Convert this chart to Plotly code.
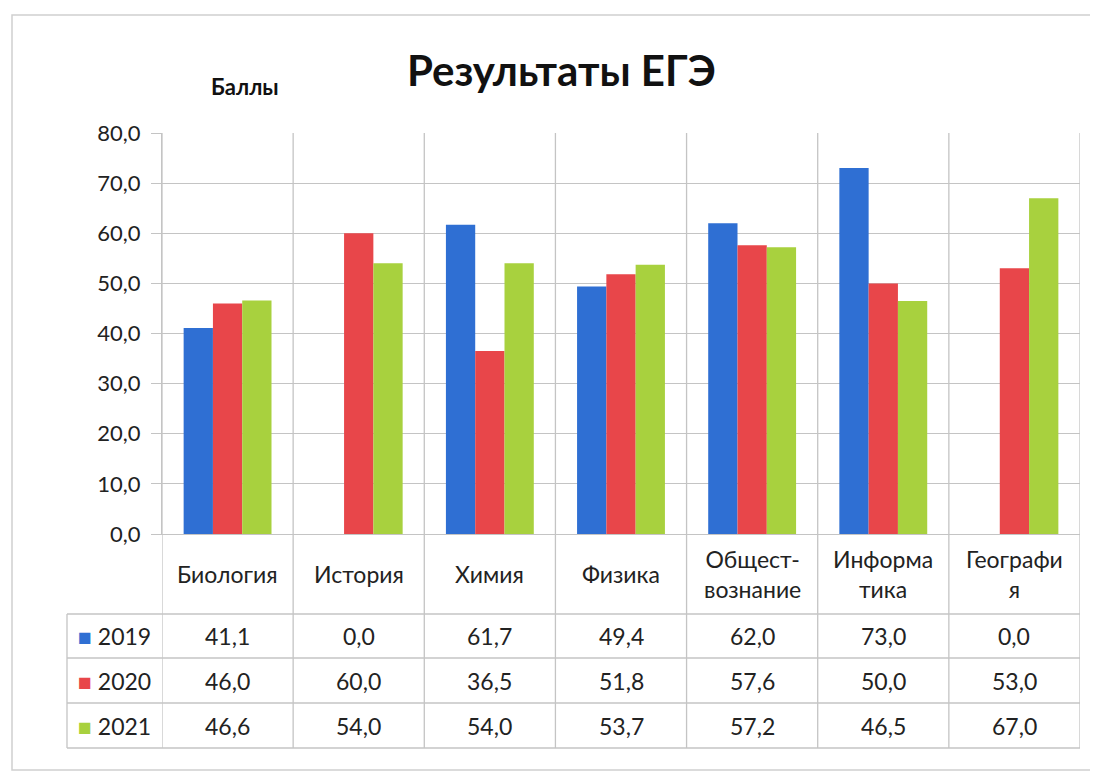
import plotly.graph_objects as go

categories = ["Биология", "История", "Химия", "Физика", "Общест-<br>вознание", "Информа<br>тика", "Географи<br>я"]
years = ["2019", "2020", "2021"]
v2019 = [41.1, 0.0, 61.7, 49.4, 62.0, 73.0, 0.0]
v2020 = [46.0, 60.0, 36.5, 51.8, 57.6, 50.0, 53.0]
v2021 = [46.6, 54.0, 54.0, 53.7, 57.2, 46.5, 67.0]
colors = ["#2f6fd3", "#e8464a", "#a8d13e"]
series = [v2019, v2020, v2021]

OFF = 8  # page body margin
W, H = 1098 - OFF, 779 - OFF
L, T = 162 - OFF, 133 - OFF
R = W - (1080 - OFF)
B = H - (534 - OFF)
ph = H - T - B
pw = W - L - R
FONT = "Lato"

def py(px):  # page pixel y -> paper y
    return (H - B - (px - OFF)) / ph

def pxx(px):  # page pixel x -> paper x
    return (px - OFF - L) / pw

fig = go.Figure()
for yr, vals, c in zip(years, series, colors):
    fig.add_trace(go.Bar(x=list(range(len(categories))), y=vals, name=yr,
                         marker=dict(color=c, line=dict(width=0))))

grid = "#c4c4c4"
shapes = []
n = len(categories)
for i in range(n + 1):
    shapes.append(dict(type="line", xref="x", yref="paper", x0=i - 0.5, x1=i - 0.5,
                       y0=1, y1=py(748), line=dict(color=grid, width=1.3)))
row_edges = [614, 658, 703, 748]
for ry in row_edges:
    shapes.append(dict(type="line", xref="paper", yref="paper", x0=pxx(67), x1=1,
                       y0=py(ry), y1=py(ry), line=dict(color=grid, width=1.3)))
shapes.append(dict(type="line", xref="paper", yref="paper", x0=pxx(67), x1=pxx(67),
                   y0=py(614), y1=py(748), line=dict(color=grid, width=1.3)))
shapes.append(dict(type="rect", xref="paper", yref="paper", x0=pxx(12), x1=pxx(1096),
                   y0=py(770), y1=py(15), line=dict(color="#d0d0d0", width=1.5)))

ann = []
def A(text, x, y, xref="paper", xanchor="center", size=23, color="#222222"):
    ann.append(dict(text=text, xref=xref, yref="paper", x=x, y=y, xanchor=xanchor,
                    yanchor="middle", showarrow=False, align="center",
                    font=dict(family=FONT, size=size, color=color)))

A("<b>Результаты ЕГЭ</b>", pxx(561), py(70), size=42, color="#111111")
A("<b>Баллы</b>", pxx(245), py(86), size=22, color="#111111")
for i, c in enumerate(categories):
    A(c, i, py(574), xref="x", size=23)
row_centers = [(row_edges[k] + row_edges[k + 1]) / 2 for k in range(3)]
for k, (yr, vals, col) in enumerate(zip(years, series, colors)):
    yc = py(row_centers[k])
    A(f"<span style='color:{col}'>■</span> {yr}", pxx(76), yc, xanchor="left", size=23)
    for i, v in enumerate(vals):
        A(f"{v:.1f}".replace(".", ","), i, yc, xref="x", size=23)

fig.update_layout(
    width=W, height=H,
    margin=dict(l=L, r=R, t=T, b=B),
    paper_bgcolor="white", plot_bgcolor="white",
    barmode="group", bargap=0.33, bargroupgap=0.0,
    showlegend=False,
    separators=", ",
    font=dict(family=FONT, size=22, color="#222222"),
    xaxis=dict(range=[-0.5, n - 0.5], showticklabels=False, showgrid=False, zeroline=False,
               showline=True, linecolor=grid, linewidth=1.3, ticks=""),
    yaxis=dict(range=[0, 80], dtick=10, tickformat=".1f", showgrid=True, gridcolor=grid,
               gridwidth=1.3, zeroline=False, showline=True, linecolor=grid, linewidth=1.3,
               ticks="outside", ticklen=10, tickcolor=grid, ticklabelstandoff=6,
               tickfont=dict(family=FONT, size=22, color="#222222")),
    shapes=shapes, annotations=ann,
)
fig.write_html("out.html")
